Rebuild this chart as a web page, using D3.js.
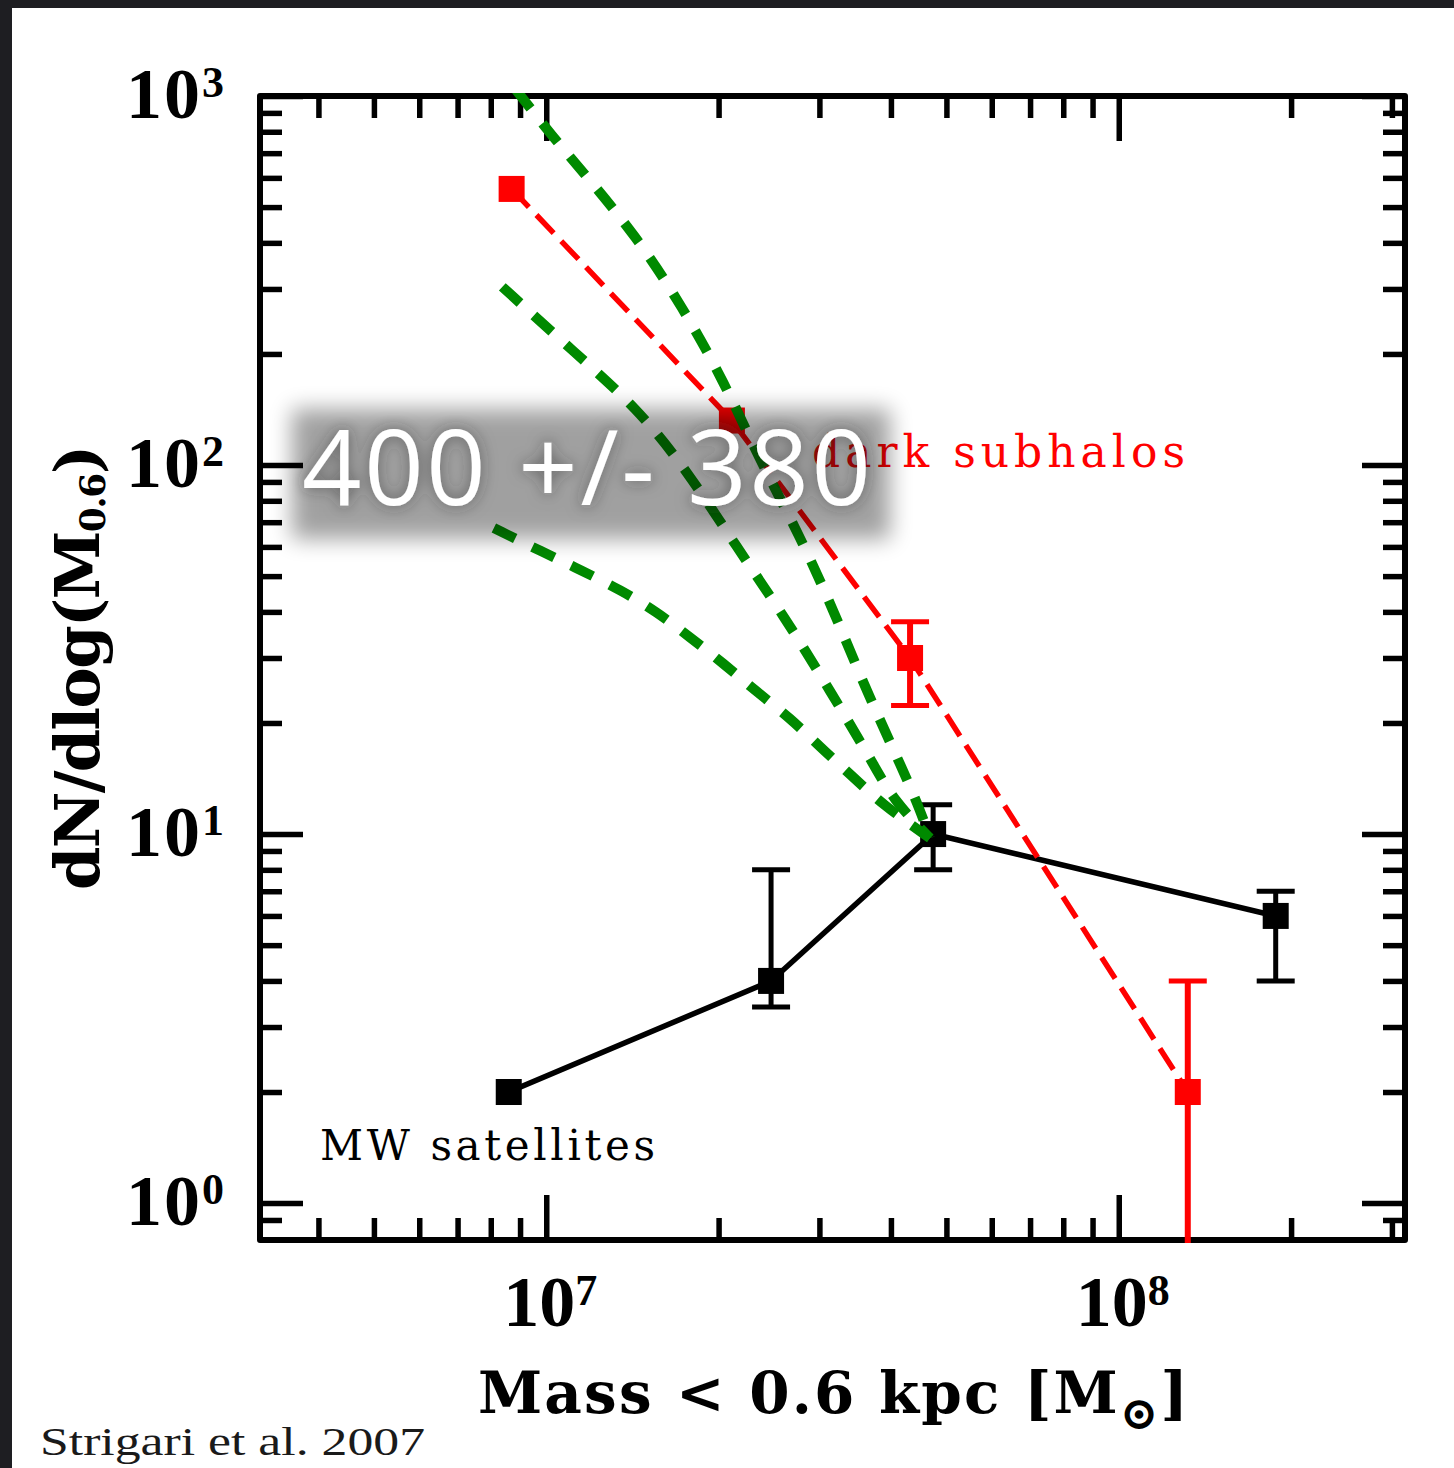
<!DOCTYPE html>
<html>
<head>
<meta charset="utf-8">
<script src="https://cdn.jsdelivr.net/npm/d3@7"></script>
<style>
  html, body { margin: 0; padding: 0; background: #1e1e22; }
  svg { display: block; }
</style>
</head>
<body>
<script>
// ---- Milky Way satellites: mass within 0.6 kpc [Msun] and dN/dlog(M0.6) ----
const mwMass  = [8.6e6, 2.47e7, 4.74e7, 1.88e8];
const mwCount = [2, 4, 10, 6];
const mwLow   = [null, 3.4, 8, 4];
const mwHigh  = [null, 8, 12, 7];

// ---- dark subhalos from the simulation ----
const subMass  = [8.7e6, 2.11e7, 4.32e7, 1.32e8];
const subCount = [560, 132, 30, 2];
const subLow   = [null, null, 22.3, 0];   // 0 = error bar runs off the bottom
const subHigh  = [null, null, 37.6, 4];

// ---- model curves converging on the 4.7e7 Msun bin ----
const steepMass  = [8.85e6, 1.03e7, 1.16e7, 1.44e7, 1.73e7, 2.05e7, 2.36e7, 2.77e7, 3.19e7, 3.63e7, 4.20e7, 4.50e7, 4.68e7];
const steepCount = [1040, 770, 622, 415, 268, 167, 103, 64.6, 39.7, 24.3, 14.9, 11.6, 9.75];
const midMass    = [8.38e6, 1.12e7, 1.44e7, 1.76e7, 2.15e7, 2.61e7, 3.13e7, 3.72e7, 4.03e7, 4.68e7];
const midCount   = [304, 202, 143, 96.8, 60.0, 38.7, 24.5, 15.6, 12.4, 9.75];
const flatMass   = [8.1e6, 9.86e6, 1.15e7, 1.35e7, 1.56e7, 1.78e7, 2.04e7, 2.33e7, 2.67e7, 3.01e7, 3.40e7, 3.87e7, 4.68e7];
const flatCount  = [67.5, 58.1, 51.9, 45.8, 40.0, 34.2, 29.0, 24.3, 20.6, 17.2, 14.5, 12.0, 9.75];

// ---- axis ticks ----
const xMajor = [1e7, 1e8];
const xMajorExp = ["7", "8"];
const xMinor = [4e6, 5e6, 6e6, 7e6, 8e6, 9e6, 2e7, 3e7, 4e7, 5e7, 6e7, 7e7, 8e7, 9e7, 2e8, 3e8];
const yMajor = [1, 10, 100, 1000];
const yMajorExp = ["0", "1", "2", "3"];
const yMinor = [0.9, 2, 3, 4, 5, 6, 7, 8, 9, 20, 30, 40, 50, 60, 70, 80, 90, 200, 300, 400, 500, 600, 700, 800, 900];

const W = 1454, H = 1468;
const plot = { left: 260, right: 1405, top: 96, bottom: 1240 };
const GREEN = "#008a00", RED = "#ff0000";
const boldSerif = "'Liberation Serif', 'DejaVu Serif', serif";
const labelSerif = "'DejaVu Serif', serif";

const x = d3.scaleLog().domain([Math.pow(10, 6.5), Math.pow(10, 8.5)]).range([plot.left, plot.right]);
const y = d3.scaleLog().domain([Math.pow(10, -0.1), 1000]).range([plot.bottom, plot.top]);

const svg = d3.select("body").append("svg").attr("width", W).attr("height", H);
const defs = svg.append("defs");
defs.append("clipPath").attr("id", "plotClip").append("rect")
  .attr("x", plot.left - 3).attr("y", plot.top - 3)
  .attr("width", plot.right - plot.left + 6).attr("height", plot.bottom - plot.top + 6);
defs.append("filter").attr("id", "soft").attr("x", "-20%").attr("y", "-50%").attr("width", "140%").attr("height", "200%")
  .append("feGaussianBlur").attr("stdDeviation", 11);
const glow = defs.append("filter").attr("id", "glow").attr("x", "-10%").attr("y", "-30%").attr("width", "120%").attr("height", "160%");
glow.append("feGaussianBlur").attr("in", "SourceAlpha").attr("stdDeviation", 8).attr("result", "b");
glow.append("feFlood").attr("flood-color", "#2a2a2a").attr("flood-opacity", 0.6).attr("result", "c");
glow.append("feComposite").attr("in", "c").attr("in2", "b").attr("operator", "in").attr("result", "s");
const gm = glow.append("feMerge");
gm.append("feMergeNode").attr("in", "s");
gm.append("feMergeNode").attr("in", "SourceGraphic");

// dark backdrop and white page
svg.append("rect").attr("width", W).attr("height", H).attr("fill", "#1e1e22");
svg.append("rect").attr("x", 12).attr("y", 8).attr("width", W - 12).attr("height", H - 8).attr("fill", "#ffffff");

// ---- inward ticks on all four sides ----
function ticks(axisFn, scale, values, len, transform) {
  const g = svg.append("g").attr("transform", transform)
    .call(axisFn(scale).tickValues(values).tickSize(-len).tickFormat(""));
  g.select(".domain").remove();
  g.selectAll(".tick line").attr("stroke", "#000").attr("stroke-width", 5.5);
}
ticks(d3.axisBottom, x, xMinor, 22, `translate(0,${plot.bottom})`);
ticks(d3.axisBottom, x, xMajor, 45, `translate(0,${plot.bottom})`);
ticks(d3.axisTop, x, xMinor, 22, `translate(0,${plot.top})`);
ticks(d3.axisTop, x, xMajor, 45, `translate(0,${plot.top})`);
ticks(d3.axisLeft, y, yMinor, 22, `translate(${plot.left},0)`);
ticks(d3.axisLeft, y, yMajor, 43, `translate(${plot.left},0)`);
ticks(d3.axisRight, y, yMinor, 22, `translate(${plot.right},0)`);
ticks(d3.axisRight, y, yMajor, 43, `translate(${plot.right},0)`);

svg.append("rect")
  .attr("x", plot.left).attr("y", plot.top)
  .attr("width", plot.right - plot.left).attr("height", plot.bottom - plot.top)
  .attr("fill", "none").attr("stroke", "#000").attr("stroke-width", 6).attr("stroke-linejoin", "round");

// ---- power-of-ten tick labels ----
function power(sel, exp) {
  sel.append("tspan").text("10");
  sel.append("tspan").attr("font-size", 44).attr("dy", -21).text(exp);
}
yMajor.forEach((v, i) => {
  svg.append("text").attr("x", 224).attr("y", y(v) + 22)
    .attr("text-anchor", "end").attr("font-family", boldSerif).attr("font-weight", "bold")
    .attr("font-size", 72).attr("fill", "#000")
    .attr("textLength", 98).attr("lengthAdjust", "spacing")
    .call(power, yMajorExp[i]);
});
xMajor.forEach((v, i) => {
  svg.append("text").attr("x", x(v) + 4).attr("y", 1326)
    .attr("text-anchor", "middle").attr("font-family", boldSerif).attr("font-weight", "bold")
    .attr("font-size", 72).attr("fill", "#000")
    .call(power, xMajorExp[i]);
});

// ---- axis titles ----
const xt = svg.append("text").attr("x", 478).attr("y", 1413)
  .attr("font-family", labelSerif).attr("font-weight", "bold").attr("font-size", 58)
  .attr("textLength", 710).attr("lengthAdjust", "spacing").attr("fill", "#000");
xt.append("tspan").text("Mass < 0.6 kpc [M");
xt.append("tspan").attr("font-size", 46).attr("dy", 16).text("\u2299");
xt.append("tspan").attr("dy", -16).text("]");

const yt = svg.append("text").attr("transform", "translate(99,890) rotate(-90)")
  .attr("font-family", labelSerif).attr("font-weight", "bold").attr("font-size", 62)
  .attr("textLength", 445).attr("lengthAdjust", "spacing").attr("fill", "#000");
yt.append("tspan").text("dN/dlog(M");
yt.append("tspan").attr("font-size", 36).attr("dy", 6).text("0.6");
yt.append("tspan").attr("dy", -6).text(")");

// ---- data layer ----
const data = svg.append("g").attr("clip-path", "url(#plotClip)");
const line = d3.line().x(d => x(d[0])).y(d => y(d[1]));
const smooth = d3.line().x(d => x(d[0])).y(d => y(d[1])).curve(d3.curveBasis);
const zip = (a, b) => a.map((v, i) => [v, b[i]]);

function errorBars(g, mass, low, high, color, width) {
  mass.forEach((m, i) => {
    if (high[i] == null) return;
    const cx = x(m);
    const yTop = y(high[i]);
    const yBot = low[i] > 0 ? y(low[i]) : plot.bottom + 10;
    g.append("line").attr("x1", cx).attr("x2", cx).attr("y1", yTop).attr("y2", yBot)
      .attr("stroke", color).attr("stroke-width", width);
    g.append("line").attr("x1", cx - 19).attr("x2", cx + 19).attr("y1", yTop).attr("y2", yTop)
      .attr("stroke", color).attr("stroke-width", 5);
    if (low[i] > 0) {
      g.append("line").attr("x1", cx - 19).attr("x2", cx + 19).attr("y1", yBot).attr("y2", yBot)
        .attr("stroke", color).attr("stroke-width", 5);
    }
  });
}
function squares(g, mass, count, color) {
  g.selectAll(null).data(zip(mass, count)).enter().append("rect")
    .attr("x", d => x(d[0]) - 13).attr("y", d => y(d[1]) - 13)
    .attr("width", 26).attr("height", 26).attr("fill", color);
}

// MW satellites
data.append("path").attr("d", line(zip(mwMass, mwCount)))
  .attr("fill", "none").attr("stroke", "#000").attr("stroke-width", 5.5);
errorBars(data, mwMass, mwLow, mwHigh, "#000", 5);
squares(data, mwMass, mwCount, "#000");

// dark subhalos
data.append("path").attr("d", line(zip(subMass, subCount)))
  .attr("fill", "none").attr("stroke", RED).attr("stroke-width", 5.5)
  .attr("stroke-dasharray", "25 11");
errorBars(data, subMass, subLow, subHigh, RED, 6);
squares(data, subMass, subCount, RED);

// model curves
[[steepMass, steepCount], [midMass, midCount], [flatMass, flatCount]].forEach(([m, c]) => {
  data.append("path").attr("d", smooth(zip(m, c)))
    .attr("fill", "none").attr("stroke", GREEN).attr("stroke-width", 10)
    .attr("stroke-dasharray", "24 19");
});

// ---- annotations ----
svg.append("text").attr("x", 812).attr("y", 467)
  .attr("font-family", labelSerif).attr("font-size", 44)
  .attr("textLength", 373).attr("lengthAdjust", "spacing")
  .attr("fill", RED).text("dark subhalos");
svg.append("text").attr("x", 320).attr("y", 1160)
  .attr("font-family", labelSerif).attr("font-size", 42)
  .attr("textLength", 335).attr("lengthAdjust", "spacing")
  .attr("fill", "#000").text("MW satellites");

// highlighted estimate
svg.append("rect").attr("x", 292).attr("y", 409).attr("width", 598).attr("height", 130)
  .attr("fill", "#000").attr("opacity", 0.37).attr("filter", "url(#soft)");
svg.append("text").attr("x", 302).attr("y", 505)
  .attr("font-family", "'Open Sans', sans-serif").attr("font-size", 104)
  .attr("textLength", 569).attr("lengthAdjust", "spacing")
  .attr("fill", "#ffffff").attr("filter", "url(#glow)").text("400 +/- 380");

// citation
svg.append("text").attr("x", 40).attr("y", 1455)
  .attr("font-family", "'Liberation Serif', serif").attr("font-size", 40)
  .attr("textLength", 385).attr("lengthAdjust", "spacingAndGlyphs")
  .attr("fill", "#1a1a1a").text("Strigari et al. 2007");
</script>
</body>
</html>
